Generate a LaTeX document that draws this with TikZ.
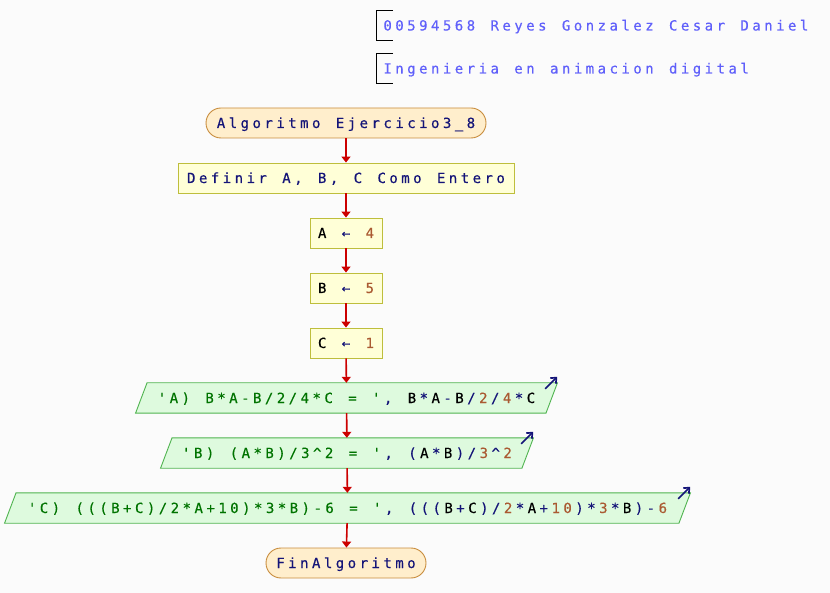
\documentclass[tikz,border=0pt]{standalone}
\usepackage{fontspec}
\usetikzlibrary{arrows.meta,backgrounds}
\newfontfamily\pf[FakeBold=0.4]{DejaVu Sans Mono}
\definecolor{bgc}{RGB}{251,251,251}
\definecolor{headblue}{RGB}{96,96,250}
\definecolor{navy}{RGB}{20,20,120}
\definecolor{numc}{RGB}{170,90,50}
\definecolor{strc}{RGB}{0,115,0}
\definecolor{termf}{RGB}{255,238,204}
\definecolor{termb}{RGB}{200,140,60}
\definecolor{procf}{RGB}{255,255,215}
\definecolor{procb}{RGB}{190,190,60}
\definecolor{outf}{RGB}{222,250,222}
\definecolor{outb}{RGB}{80,180,80}
\definecolor{flowred}{RGB}{204,0,0}
\ExplSyntaxOn
\cs_new:Npn \mchars #1
  {
    \str_map_inline:nn {#1}
      { \makebox[11.9pt]{ \str_if_eq:nnTF {##1} {'} { \symbol{39} } {##1} } }
  }
\NewDocumentCommand \M { m m } { \textcolor{#1}{ \mchars{#2} } }
\ExplSyntaxOff
\begin{document}
\begin{tikzpicture}[x=1pt,y=-1pt,
  font=\pf\fontsize{14}{16}\selectfont,
  every node/.style={text height=10pt, text depth=0pt},
  term/.style={draw=termb, fill=termf, rounded corners=15pt, minimum height=30pt, inner sep=0pt, line width=0.9pt},
  proc/.style={draw=procb, fill=procf, minimum height=30pt, inner sep=0pt, line width=0.9pt},
  outn/.style={minimum height=30pt, inner sep=0pt},
  outshape/.style={draw=outb, fill=outf, line width=0.9pt},
  flow/.style={draw=flowred, line width=1.6pt, -{Triangle[width=9pt,length=6pt]}},
  outicon/.style={draw=navy, line width=1.7pt, -{Straight Barb[length=4.5pt,width=8pt]}},
  headtxt/.style={anchor=west, inner sep=0pt}
]
\begin{scope}[on background layer]
\fill[bgc] (0,0) rectangle (830,593);
\end{scope}
\useasboundingbox (0,0) rectangle (830,593);

% header
\node[headtxt] (h1) at (381.5,25.5) {\M{headblue}{00594568 Reyes Gonzalez Cesar Daniel}};
\node[headtxt] (h2) at (381.5,68.5) {\M{headblue}{Ingenieria en animacion digital}};
\draw[line width=0.8pt] ([shift={(11.5,-15)}]h1.west) -- ++(-17,0) -- ++(0,29.5) -- ++(17,0);
\draw[line width=0.8pt] ([shift={(11.5,-15.5)}]h2.west) -- ++(-17,0) -- ++(0,30) -- ++(17,0);

% flow
\node[term, minimum width=280pt] (start) at (346,123) {\M{navy}{Algoritmo Ejercicio3_8}};
\node[proc, minimum width=336pt] (def) at (346,178) {\M{navy}{Definir A, B, C Como Entero}};
\node[proc, minimum width=72pt] (a) at (346,233) {\M{black}{A}\M{navy}{ ← }\M{numc}{4}};
\node[proc, minimum width=72pt] (b) at (346,288) {\M{black}{B}\M{navy}{ ← }\M{numc}{5}};
\node[proc, minimum width=72pt] (c) at (346,343) {\M{black}{C}\M{navy}{ ← }\M{numc}{1}};
\node[outn, minimum width=410pt] (oa) at (346.5,398) {\M{strc}{'A) B*A-B/2/4*C = '}\M{navy}{, }\M{black}{B}\M{navy}{*}\M{black}{A}\M{navy}{-}\M{black}{B}\M{navy}{/}\M{numc}{2}\M{navy}{/}\M{numc}{4}\M{navy}{*}\M{black}{C}};
\node[outn, minimum width=361pt] (ob) at (347,453) {\M{strc}{'B) (A*B)/3^2 = '}\M{navy}{, (}\M{black}{A}\M{navy}{*}\M{black}{B}\M{navy}{)/}\M{numc}{3}\M{navy}{^}\M{numc}{2}};
\node[outn, minimum width=674pt] (oc) at (347.5,508) {\M{strc}{'C) (((B+C)/2*A+10)*3*B)-6 = '}\M{navy}{, (((}\M{black}{B}\M{navy}{+}\M{black}{C}\M{navy}{)/}\M{numc}{2}\M{navy}{*}\M{black}{A}\M{navy}{+}\M{numc}{10}\M{navy}{)*}\M{numc}{3}\M{navy}{*}\M{black}{B}\M{navy}{)-}\M{numc}{6}};
\node[term, minimum width=160pt] (end) at (346,563) {\M{navy}{FinAlgoritmo}};

\begin{scope}[on background layer]
\foreach \n in {oa,ob,oc}{
  \draw[outshape] ([xshift=5.75pt]\n.north west) -- ([xshift=5.75pt]\n.north east) -- ([xshift=-5.75pt]\n.south east) -- ([xshift=-5.75pt]\n.south west) -- cycle;
}
\end{scope}
\foreach \n in {oa,ob,oc}{
  \draw[outicon] ([shift={(-6.5,6)}]\n.north east) -- ([shift={(5.5,-6)}]\n.north east);
}

\draw[flow] (start) -- (def);
\draw[flow] (def) -- (a);
\draw[flow] (a) -- (b);
\draw[flow] (b) -- (c);
\draw[flow] (c) -- (oa);
\draw[flow] (oa) -- (ob);
\draw[flow] (ob) -- (oc);
\draw[flow] (oc) -- (end);
\end{tikzpicture}
\end{document}
